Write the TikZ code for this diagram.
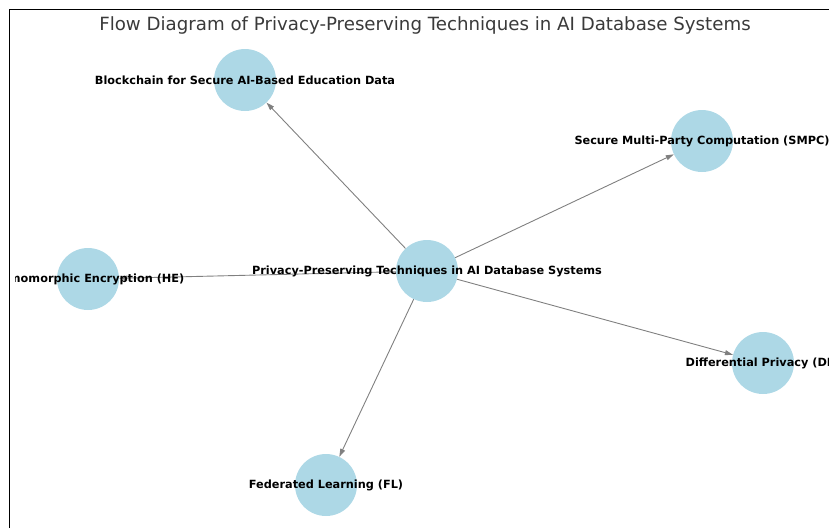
\documentclass[tikz,border=0pt]{standalone}
\usepackage{fontspec}
\setmainfont{DejaVu Sans}
\usetikzlibrary{arrows.meta}

\definecolor{nodeblue}{HTML}{ADD8E6}
\definecolor{edgegray}{HTML}{808080}
\definecolor{titlegray}{HTML}{3A3A3A}

\tikzset{
    tech/.style={circle, fill=nodeblue, minimum size=62pt, inner sep=0pt},
    techtext/.style={font=\bfseries\fontsize{11.3}{13}\selectfont, text=black, inner sep=0pt},
    flow/.style={draw=edgegray, line width=0.9pt, -{Triangle[length=8pt,width=5pt]}}
}

\begin{document}
\begin{tikzpicture}[x=1pt, y=-1pt]
    \useasboundingbox (0,0) rectangle (829,528);

    % Cornice
    \draw[line width=1pt] (9.5,528) -- (9.5,9.5) -- (829,9.5);

    % Titolo
    \node[font=\fontsize{18.2}{21}\selectfont, text=titlegray] (title) at (425,25)
        {Flow Diagram of Privacy-Preserving Techniques in AI Database Systems};

    \begin{scope}
        \clip (15,10) rectangle (829,528);

        % Nodi
        \node[tech] (cent)   at (427,271) {};
        \node[tech] (bchain) at (245,80)  {};
        \node[tech] (smpc)   at (702,141) {};
        \node[tech] (homo)   at (88,279)  {};
        \node[tech] (diffp)  at (763,363) {};
        \node[tech] (fedl)   at (326,485) {};

        % Archi
        \foreach \t in {bchain, smpc, homo, diffp, fedl}
            \draw[flow] (cent) -- (\t);

        % Etichette
        \node[techtext] (cent-txt)   at (cent)   {Privacy-Preserving Techniques in AI Database Systems};
        \node[techtext] (bchain-txt) at (bchain) {Blockchain for Secure AI-Based Education Data};
        \node[techtext] (smpc-txt)   at (smpc)   {Secure Multi-Party Computation (SMPC)};
        \node[techtext] (homo-txt)   at (homo)   {Homomorphic Encryption (HE)};
        \node[techtext] (diffp-txt)  at (diffp)  {Differential Privacy (DP)};
        \node[techtext] (fedl-txt)   at (fedl)   {Federated Learning (FL)};
    \end{scope}
\end{tikzpicture}
\end{document}
